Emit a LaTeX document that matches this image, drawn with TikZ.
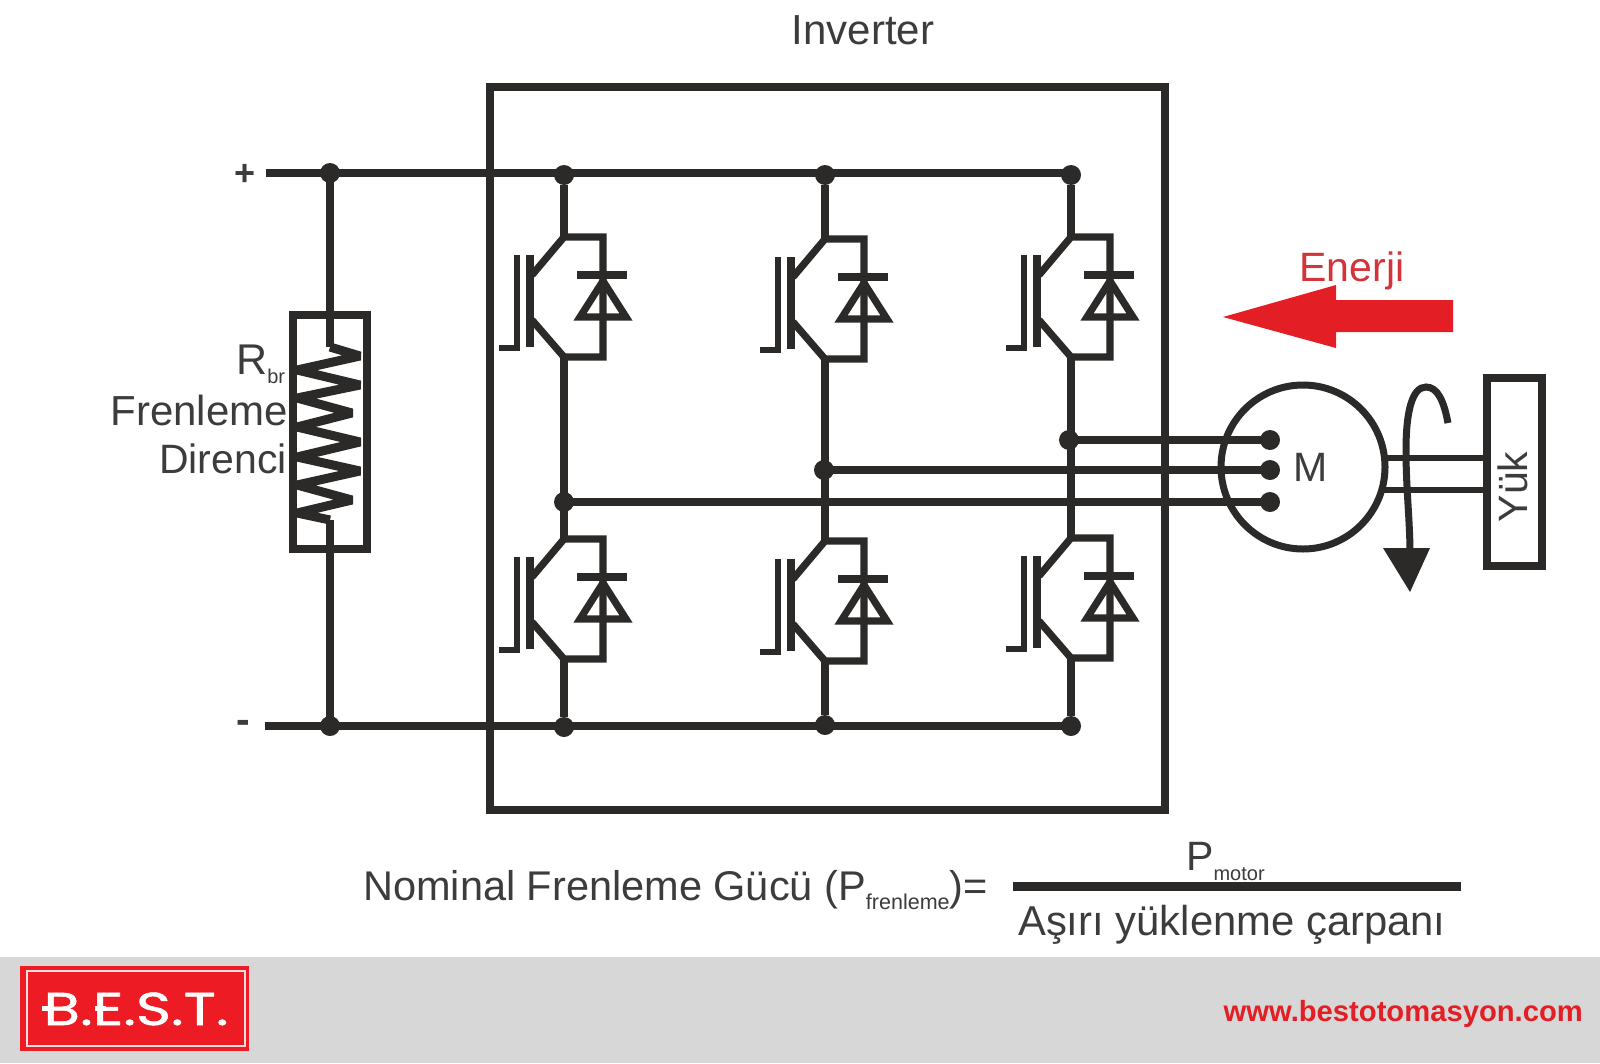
\documentclass[tikz,border=0pt]{standalone}
\usepackage{fontspec}
\setmainfont{Liberation Sans}
\newfontfamily\logofont[FakeStretch=1.3,FakeBold=1.2]{Poppins}
\definecolor{ink}{HTML}{2B2A29}
\definecolor{txtgray}{HTML}{3C3C3C}
\definecolor{redarrow}{HTML}{E31E24}
\definecolor{redtxt}{HTML}{D2343A}
\definecolor{logored}{HTML}{ED1C24}
\definecolor{footer}{HTML}{D7D7D7}
\newcommand{\fsz}[1]{\fontsize{#1}{#1}\selectfont}
\tikzset{
  x=1pt,y=-1pt,
  wire/.style={draw=ink,line width=7.2pt},
  frame/.style={draw=ink,line width=7.5pt,fill=none},
  dot/.style={circle,fill=ink,draw=none,inner sep=0pt,minimum size=20pt},
  label/.style={inner sep=0pt,text=txtgray,font=\fsz{41}},
  igbt/.pic={
    \coordinate (-c) at (0,0);
    \coordinate (-e) at (0,120);
    \draw[wire,line join=miter] (-32,38) -- (0,0) -- (39,0) -- (39,120) -- (0,120) -- (-32,83);
    \draw[draw=ink,line width=8.5pt] (-34,18) -- (-34,110);
    \draw[draw=ink,line width=6pt] (-47,18) -- (-47,111) -- (-65,111);
    \draw[wire] (13,38) -- (63,38);
    \draw[wire,line join=miter] (39,44) -- (16,80) -- (62,80) -- cycle;
  }
}
\begin{document}
\begin{tikzpicture}
\useasboundingbox (0,0) rectangle (1600,1063);
\fill[white] (0,0) rectangle (1600,1063);
% footer
\fill[footer] (0,957) rectangle (1600,1063);
\node[fill=logored,draw=none,minimum width=229pt,minimum height=85pt,inner sep=0pt] (logo) at (134.5,1008.5) {};
\node[draw=white!85!logored,line width=2pt,minimum width=218pt,minimum height=75pt,inner sep=0pt] (logoin) at (136,1008.5) {};
\node[inner sep=0pt,anchor=base,text=white,font=\logofont\fsz{46}] (logotxt) at (136,1025) {B.E.S.T.};
\fill[white] (42,1006) rectangle (54,1011);
\fill[white] (95,1006) rectangle (106,1011);
\node[inner sep=0pt,anchor=base east,text=redarrow,font=\bfseries\fsz{29.2}] (url) at (1583,1021) {www.bestotomasyon.com};
% inverter box
\node[frame,minimum width=675pt,minimum height=723pt,inner sep=0pt] (inv) at (827.5,448.5) {};
\node[label,font=\fsz{42}] (invtxt) at (863,30) {Inverter};
% bus dots
\node[dot] (rt) at (330,173) {};
\node[dot] (rb) at (330,726) {};
\node[dot] (t1) at (564,175) {};
\node[dot] (t2) at (825,175) {};
\node[dot] (t3) at (1071,175) {};
\node[dot] (b1) at (564,727) {};
\node[dot] (b2) at (825,725) {};
\node[dot] (b3) at (1071,726) {};
\coordinate (pplus) at (266,173);
\coordinate (pminus) at (265,726);
\draw[wire] (pplus) -- (pplus -| t3);
\draw[wire] (pminus) -- (pminus -| b3);
\node[label,font=\bfseries\fsz{36}] (plus) at (245,175) {+};
\node[label,font=\bfseries\fsz{41}] (minus) at (243,727) {-};
% igbts
\pic (Q1) at (564,237) {igbt};
\pic (Q2) at (825,239) {igbt};
\pic (Q3) at (1071,237) {igbt};
\pic (Q4) at (564,539) {igbt};
\pic (Q5) at (825,541) {igbt};
\pic (Q6) at (1071,538) {igbt};
\foreach \u/\v in {t1/Q1-c,t2/Q2-c,t3/Q3-c,Q1-e/Q4-c,Q2-e/Q5-c,Q3-e/Q6-c,Q4-e/b1,Q5-e/b2,Q6-e/b3}
  \draw[wire] (\u) -- (\v);
% phases
\node[dot] (p1) at (564,502) {};
\node[dot] (p2) at (824,470) {};
\node[dot] (p3) at (1069,440) {};
\node[dot] (m1) at (1270,502) {};
\node[dot] (m2) at (1270,470) {};
\node[dot] (m3) at (1270,440) {};
\draw[wire] (p1.center) -- (m1.center);
\draw[wire] (p2.center) -- (m2.center);
\draw[wire] (p3.center) -- (m3.center);
% motor
\node[circle,draw=ink,line width=7pt,minimum size=164pt,inner sep=0pt] (motor) at (1303,467) {};
\node[label] (mtxt) at (1311,467) {M};
% load
\node[frame,minimum width=55pt,minimum height=188pt,inner sep=0pt] (load) at (1514.5,472) {};
\node[label,rotate=90] (ytxt) at (1513,487) {Yük};
\coordinate (s1) at (1385,458);
\coordinate (s1b) at (1487,458);
\coordinate (s2) at (1381,490);
\coordinate (s2b) at (1487,490);
\draw[draw=ink,line width=5.5pt] (s1) -- (s1b);
\draw[draw=ink,line width=5.5pt] (s2) -- (s2b);
% rotation arrow
\draw[draw=ink,line width=7pt] (1448,423) .. controls (1444,402) and (1438,387) .. (1426,387)
  .. controls (1412,387) and (1406,412) .. (1406,450) .. controls (1406,490) and (1410,520) .. (1410,555);
\fill[ink] (1383,548) -- (1430,548) -- (1410,592) -- cycle;
% energy arrow
\fill[redarrow] (1223,317) -- (1336,285) -- (1336,300) -- (1453,300) -- (1453,332) -- (1336,332) -- (1336,348) -- cycle;
\node[label,text=redtxt,anchor=base] (enerji) at (1352,281) {Enerji};
% resistor
\node[frame,minimum width=74pt,minimum height=234pt,inner sep=0pt] (res) at (330,432) {};
\coordinate (za) at (330,347);
\coordinate (zb) at (330,520);
\draw[wire] (rt.center) -- (za);
\draw[wire] (zb) -- (rb.center);
\draw[draw=ink,line width=9pt,line join=bevel] (za) -- (360,356) -- (297,370) -- (360,385) -- (297,398) -- (352,413) -- (297,427) -- (360,442) -- (297,457) -- (360,471) -- (297,485) -- (352,500) -- (297,513) -- (zb);
\node[label,anchor=base west,font=\fsz{43}] (r) at (236,374) {R\raisebox{-9pt}{\fsz{20}br}};
\node[label,anchor=base east,font=\fsz{42}] (fr) at (288,425) {Frenleme};
\node[label,anchor=base east] (dr) at (287,473) {Direnci};
% formula
\node[label,anchor=base west,font=\fsz{41.5}] (nom) at (363,900) {Nominal Frenleme Gücü (P\raisebox{-9pt}{\fsz{21.5}frenleme})=};
\coordinate (fa) at (1013,886);
\coordinate (fb) at (1461,886);
\draw[draw=ink,line width=9pt] (fa) -- (fb);
\node[label,anchor=base west] (pm) at (1186,870) {P\raisebox{-10pt}{\fsz{20}motor}};
\node[label,anchor=base west,font=\fsz{41.8}] (asiri) at (1018,935) {Aşırı yüklenme çarpanı};
\end{tikzpicture}
\end{document}
